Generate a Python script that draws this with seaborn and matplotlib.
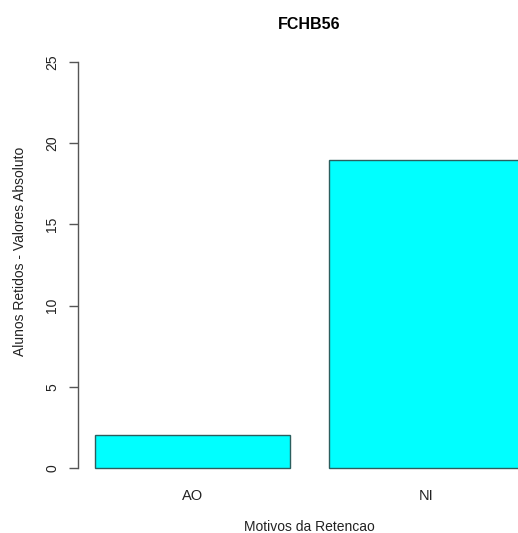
import numpy as np
import pandas as pd
import matplotlib
matplotlib.use("Agg")
import matplotlib.pyplot as plt
import seaborn as sb

motivos = ["AO", "NI"]
alunos = [2, 19]

sb.set_style("white")
plt.rcParams["font.family"] = ["Liberation Sans", "DejaVu Sans"]

df = pd.DataFrame({"motivo": motivos, "alunos": alunos})

fig = plt.figure(figsize=(5.18, 5.33), dpi=100)
# plot region as in R (extends past the right edge of the image)
ax = fig.add_axes([78 / 518, 49 / 533, 463 / 518, 438 / 533])

sb.barplot(data=df, x="motivo", y="alunos", color="#00ffff", width=1 / 1.2,
           edgecolor="#2b5e5e", linewidth=1.0, saturation=1, ax=ax)

ax.set_xlim(-0.49, 1.49)
ax.set_ylim(-1, 26)
ax.set_yticks([0, 5, 10, 15, 20, 25])
ax.set_yticklabels(["0", "5", "10", "15", "20", "25"], rotation=90, va="center")

for s in ["top", "right", "bottom"]:
    ax.spines[s].set_visible(False)
ax.spines["left"].set_bounds(0, 25)
ax.spines["left"].set_color("#555555")
ax.spines["left"].set_linewidth(1.0)

ax.tick_params(axis="y", length=6.5, width=1.0, color="#555555", pad=7,
               labelsize=10, labelcolor="#222222", left=True)
ax.tick_params(axis="x", length=0, pad=3.5, labelsize=10.5, labelcolor="#222222")

ax.set_xlabel("Motivos da Retencao", fontsize=10, color="#222222")
ax.xaxis.set_label_coords(231 / 463, -36 / 438)
ax.set_ylabel("Alunos Retidos - Valores Absoluto", fontsize=10, color="#222222")
ax.yaxis.set_label_coords(-51 / 463, 0.53)
ax.set_title("FCHB56", fontsize=11.5, fontweight="bold", color="black", pad=12)

plt.savefig("out.png", dpi=100)
